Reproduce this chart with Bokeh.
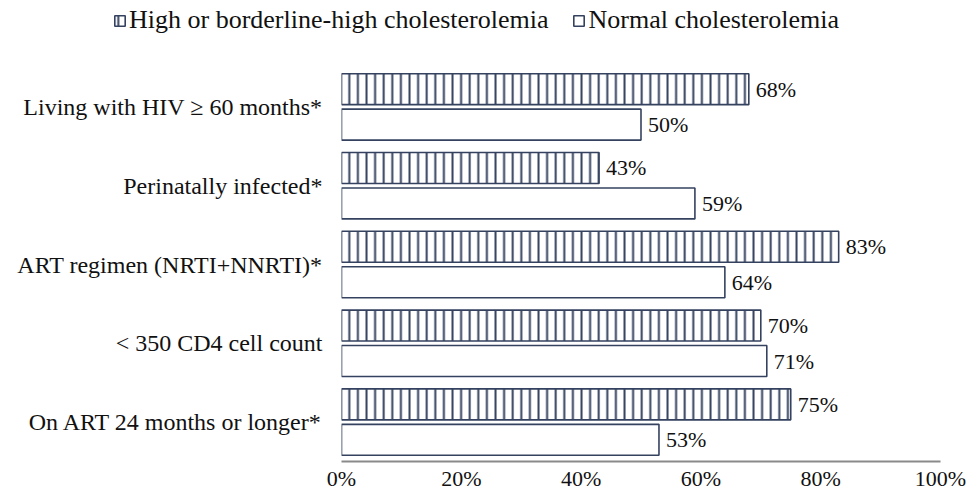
from bokeh.plotting import figure
from bokeh.models import FactorRange, Range1d, FixedTicker, PrintfTickFormatter, ColumnDataSource, Legend, LegendItem
from bokeh.layouts import column
from bokeh.transform import dodge
from bokeh.core.properties import value
from bokeh.embed import file_html
from bokeh.resources import INLINE

categories = ["Living with HIV \u2265 60 months*", "Perinatally infected*", "ART regimen (NRTI+NNRTI)*",
              "< 350 CD4 cell count", "On ART 24 months or longer*"]
high = [68, 43, 83, 70, 75]
normal = [50, 59, 64, 71, 53]
series_names = ["High or borderline-high cholesterolemia", "Normal cholesterolemia"]
x_ticks = [0, 20, 40, 60, 80, 100]

FONT = "Liberation Serif"
NAVY = "#34425f"
HIGH_STYLE = dict(fill_color="white", line_color=NAVY, line_width=1.6,
                  hatch_pattern="|", hatch_color=NAVY, hatch_scale=8.6, hatch_weight=2)
NORM_STYLE = dict(fill_color="white", line_color=NAVY, line_width=1.6)

src = ColumnDataSource(dict(
    cat=categories, high=high, normal=normal,
    high_lbl=[f"{v}%" for v in high], normal_lbl=[f"{v}%" for v in normal],
))

# ---- legend strip (its own small plot; its bars are zero-size, only the legend shows) ----
LEG_H = 40
pl = figure(width=900, height=LEG_H, x_range=Range1d(0, 1), y_range=Range1d(0, 1),
            output_backend="svg", toolbar_location=None, frame_align=False,
            min_border_left=0, min_border_right=0, min_border_top=0, min_border_bottom=0)
pl.axis.visible = False
pl.grid.visible = False
pl.outline_line_color = None
lr_high = pl.hbar(y=0.5, left="high", right="high", height=0, source=src, **HIGH_STYLE)
lr_norm = pl.hbar(y=0.5, left="normal", right="normal", height=0, source=src, **NORM_STYLE)
legend = Legend(items=[LegendItem(label=series_names[0], renderers=[lr_high]),
                       LegendItem(label=series_names[1], renderers=[lr_norm])],
                orientation="horizontal", location=(113, 5))
legend.background_fill_alpha = 0
legend.border_line_alpha = 0
legend.padding = 0
legend.margin = 0
legend.spacing = 24
legend.glyph_width = 13
legend.glyph_height = 13
legend.label_standoff = 3
legend.label_text_font = FONT
legend.label_text_font_size = "26px"
legend.label_text_color = "#111111"
pl.add_layout(legend)

# ---- main chart ----
p = figure(width=975, height=493 - LEG_H,
           y_range=FactorRange(*reversed(categories), range_padding=0),
           x_range=Range1d(0, 100),
           output_backend="svg", toolbar_location=None, frame_align=False,
           min_border_left=341, min_border_right=35, min_border_top=67 - LEG_H, min_border_bottom=0)
p.outline_line_color = None
p.xgrid.grid_line_color = None
p.ygrid.grid_line_color = None

bh = 0.393
off = 0.225
p.hbar(y=dodge("cat", off, range=p.y_range), left=0, right="high", height=bh, source=src, **HIGH_STYLE)
p.hbar(y=dodge("cat", -off, range=p.y_range), left=0, right="normal", height=bh, source=src, **NORM_STYLE)

p.text(x="high", y=dodge("cat", off, range=p.y_range), text="high_lbl", source=src,
       x_offset=7, text_baseline="middle", text_align="left",
       text_font=value(FONT), text_font_size="22px", text_color="#111111")
p.text(x="normal", y=dodge("cat", -off, range=p.y_range), text="normal_lbl", source=src,
       x_offset=7, text_baseline="middle", text_align="left",
       text_font=value(FONT), text_font_size="22px", text_color="#111111")

xa = p.xaxis[0]
xa.ticker = FixedTicker(ticks=x_ticks)
xa.formatter = PrintfTickFormatter(format="%d%%")
xa.axis_line_color = "#8a8a8a"
xa.axis_line_width = 2
xa.major_tick_line_color = None
xa.minor_tick_line_color = None
xa.major_tick_out = 0
xa.major_tick_in = 0
xa.major_label_standoff = 4
xa.major_label_text_font = FONT
xa.major_label_text_font_size = "22px"
xa.major_label_text_color = "#111111"

ya = p.yaxis[0]
ya.axis_line_color = None
ya.major_tick_line_color = None
ya.minor_tick_line_color = None
ya.major_tick_out = 0
ya.major_tick_in = 0
ya.major_label_standoff = 19
ya.major_label_text_font = FONT
ya.major_label_text_font_size = "24px"
ya.major_label_text_color = "#111111"

layout = column(pl, p, spacing=0)
open("out.html", "w").write(file_html(layout, INLINE))
